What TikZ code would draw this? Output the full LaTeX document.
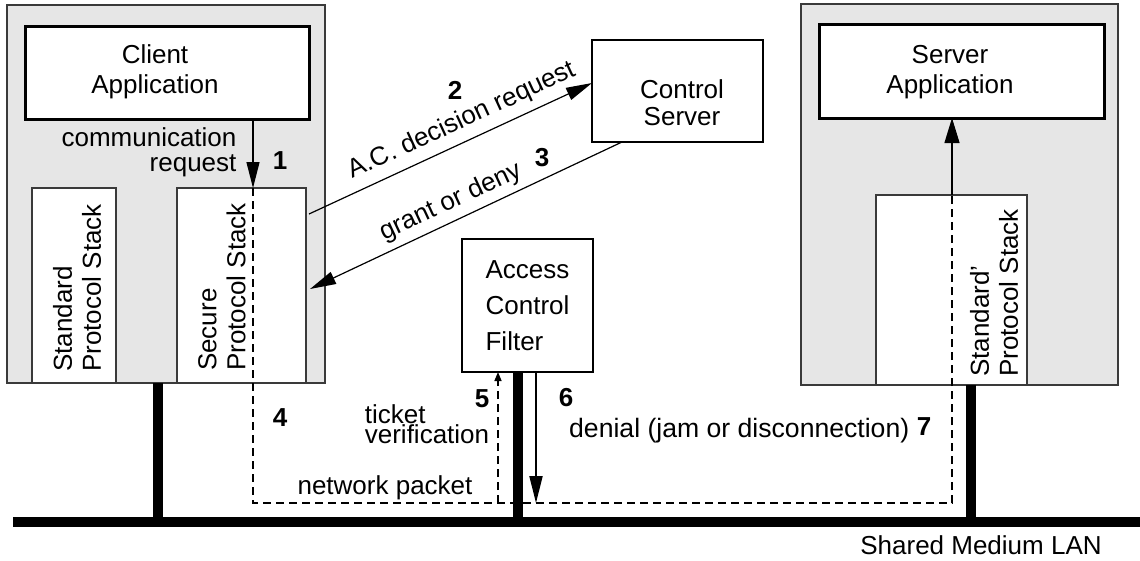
\documentclass[tikz,border=0pt]{standalone}
\usepackage{fontspec}
\setmainfont{Liberation Sans}
\usetikzlibrary{arrows.meta,calc}
\definecolor{boxgray}{HTML}{E6E6E6}
\definecolor{edgegray}{HTML}{3A3A3A}
\tikzset{
 gbox/.style={draw=edgegray, fill=boxgray, line width=1.2pt, inner sep=0pt, outer sep=0pt},
 wbox/.style={draw=edgegray, fill=white, line width=1.2pt, inner sep=0pt, outer sep=0pt},
 appbox/.style={draw=black, fill=white, line width=3pt, inner sep=0pt, outer sep=0pt},
 midbox/.style={draw=black, fill=white, line width=2.5pt, inner sep=0pt, outer sep=0pt},
 txt/.style={inner sep=0pt, font=\fontsize{26}{30}\selectfont},
 num/.style={inner sep=0pt, font=\fontsize{26}{30}\selectfont\bfseries},
 bigarr/.style={-{Triangle[length=26pt,width=13pt]}, line width=1.2pt},
 pkt/.style={dash pattern=on 8pt off 5pt, line width=1.5pt},
 lan/.style={line width=10pt},
 stacktxt/.style={inner sep=0pt, rotate=90, anchor=west, align=left, font=\fontsize{26}{29}\selectfont},
}
\begin{document}
\begin{tikzpicture}[x=1pt,y=-1pt]
\useasboundingbox (0,0) rectangle (1140,560);
% hosts
\node[gbox, minimum width=318, minimum height=378] (leftgray) at (166,194) {};
\node[gbox, minimum width=317, minimum height=381] (rightgray) at (959.5,194.5) {};
\node[appbox, minimum width=284, minimum height=93] (clientapp) at (167,72.5) {};
\node[appbox, minimum width=285, minimum height=94] (serverapp) at (961.5,71) {};
\node[wbox, minimum width=84, minimum height=195] (stdstack) at (74,285.5) {};
\node[wbox, minimum width=129, minimum height=195] (secstack) at (241.5,285.5) {};
\node[wbox, minimum width=151, minimum height=190] (stdpstack) at (951.5,290) {};
\node[midbox, minimum width=171, minimum height=102] (ctrlsrv) at (677.5,91) {};
\node[midbox, minimum width=131, minimum height=133, align=left,
      font=\fontsize{26}{36}\selectfont] (filter) at (527.5,305.5) {Access\\Control\\Filter};
% texts
\node[txt, align=center] (clienttxt) at (155,72) {Client\\Application};
\node[txt, align=center] (servertxt) at (950,72) {Server\\Application};
\node[txt, align=center, font=\fontsize{26}{27}\selectfont] (ctrltxt) at (682,103) {Control\\Server};
\node[stacktxt] (stdtxt) at (77,372) {Standard\\Protocol Stack};
\node[stacktxt] (sectxt) at (222,371) {Secure\\Protocol Stack};
\node[stacktxt] (stdptxt) at (994,377) {Standard'\\Protocol Stack};
\node[txt, align=right, font=\fontsize{26}{25}\selectfont] (commtxt) at (149,152) {communication\\request};
\node[txt, align=left, font=\fontsize{26}{20}\selectfont] (tickettxt) at (427,424) {ticket\\verification};
\node[txt] (pkttxt) at (385,488) {network packet};
\node[txt, anchor=base west, font=\fontsize{26.6}{30}\selectfont] (denialtxt) at (569,437) {denial (jam or disconnection)};
\node[txt] (lantxt) at (981,545) {Shared Medium LAN};
\node[txt, rotate=24.8] (reqtxt) at (462,121) {A.C. decision request};
\node[txt, rotate=25] (granttxt) at (451,202) {grant or deny};
\node[num] (n1) at (280,161) {1};
\node[num] (n2) at (455,90) {2};
\node[num] (n3) at (542,158) {3};
\node[num] (n4) at (280,418) {4};
\node[num] (n5) at (482,399) {5};
\node[num] (n6) at (566,398) {6};
\node[num] (n7) at (924,427) {7};
% LAN
\coordinate (lanL) at (13,522);
\coordinate (lanR) at (1140,522);
\coordinate (s1) at (158,0);
\coordinate (s2) at (518,0);
\coordinate (s3) at (971,0);
\draw[lan] (lanL) -- (lanR);
\draw[lan] (leftgray.south -| s1) -- (lanL -| s1);
\draw[lan] (filter.south -| s2) -- (lanL -| s2);
\draw[lan] (rightgray.south -| s3) -- (lanL -| s3);
% packet path
\coordinate (p1) at (253,503);
\coordinate (p2) at (952,503);
\coordinate (p5) at (498,503);
\coordinate (p6) at (536,503);
\draw[bigarr] (clientapp.south -| p1) -- (secstack.north -| p1);
\draw[pkt] (secstack.north -| p1) -- (p1) -- (p2) -- (stdpstack.north -| p2);
\draw[bigarr, -{Triangle[length=25pt,width=15pt]}] (stdpstack.north -| p2) -- (serverapp.south -| p2);
\draw[pkt, -{Triangle[length=9pt,width=7pt]}] (p5) -- (filter.south -| p5);
\draw[bigarr, line width=2pt, -{Triangle[length=27pt,width=13pt]}] (filter.south -| p6) -- (p6);
% control server exchange
\draw[bigarr] ($(secstack.north east)+(3,26)$) -- ($(ctrlsrv.north west)+(0,43)$);
\draw[bigarr] ($(ctrlsrv.south west)+(30,0)$) -- ($(secstack.north east)+(4,101)$);
\end{tikzpicture}
\end{document}
